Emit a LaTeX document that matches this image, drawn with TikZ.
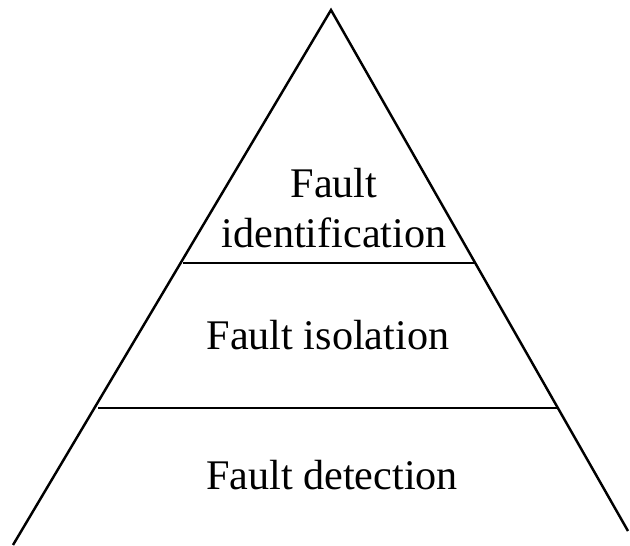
\documentclass[tikz,border=0pt]{standalone}
\usepackage{fontspec}
\setmainfont{Liberation Serif}
\begin{document}
\begin{tikzpicture}[x=0.01cm, y=-0.01cm, line width=0.7pt,
    font=\fontsize{12}{14.5}\selectfont,
    level/.style={anchor=base, inner sep=0pt, align=center}]
  \useasboundingbox (0,0) rectangle (630,546);
  % outline of the pyramid
  \coordinate (apex) at (331,10);
  \coordinate (bl) at (13,545);
  \coordinate (br) at (628,531);
  \coordinate (l1w) at (183,263);
  \coordinate (l1e) at (475,263);
  \coordinate (l2w) at (98,408);
  \coordinate (l2e) at (557,408);
  \draw (bl) -- (apex) -- (br);
  \draw (l1w) -- (l1e);
  \draw (l2w) -- (l2e);
  % levels
  \node[level] (ident) at (334,248) {Fault\\identification};
  \node[level] (isol) at (328,350) {Fault isolation};
  \node[level] (detect) at (332,490) {Fault detection};
\end{tikzpicture}
\end{document}
